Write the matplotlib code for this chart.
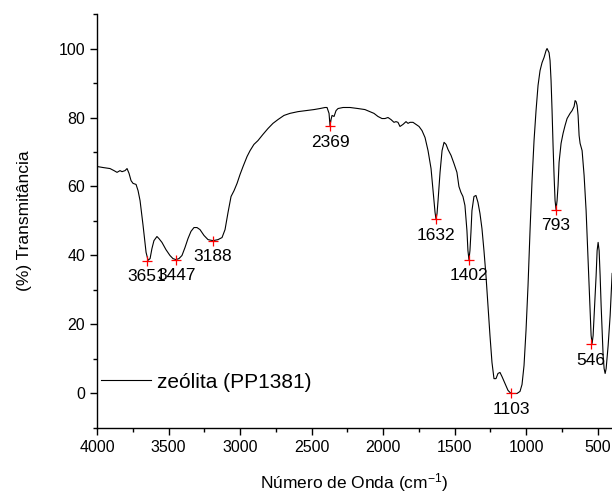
import numpy as np
import matplotlib
matplotlib.use('Agg')
import matplotlib.pyplot as plt
from matplotlib.ticker import MultipleLocator

plt.rcParams['font.family'] = ['Liberation Sans', 'DejaVu Sans']
plt.rcParams['mathtext.default'] = 'regular'

# espectro FTIR: número de onda (cm-1) e transmitância (%)
wavenumber = [4000, 3958, 3909, 3881, 3860, 3839, 3825, 3804, 3790, 3776, 3762, 3748,
              3727, 3713, 3699, 3678, 3657, 3643, 3629, 3616, 3602, 3581, 3567, 3546,
              3518, 3490, 3469, 3448, 3427, 3406, 3385, 3364, 3343, 3322, 3301, 3280,
              3252, 3224, 3189, 3154, 3126, 3105, 3084, 3063, 3042, 3021, 3000, 2979,
              2951, 2930, 2903, 2875, 2840, 2805, 2770, 2735, 2693, 2651, 2595, 2539,
              2483, 2441, 2406, 2392, 2378, 2371, 2364, 2357, 2343, 2329, 2315, 2280,
              2231, 2176, 2127, 2092, 2064, 2036, 2008, 1987, 1966, 1945, 1924, 1910,
              1896, 1882, 1861, 1840, 1826, 1812, 1791, 1770, 1749, 1728, 1707, 1686,
              1665, 1651, 1637, 1630, 1623, 1616, 1602, 1588, 1574, 1560, 1546, 1525,
              1505, 1484, 1470, 1456, 1442, 1428, 1414, 1407, 1400, 1393, 1386, 1379,
              1365, 1351, 1337, 1323, 1309, 1295, 1281, 1267, 1253, 1239, 1225, 1211,
              1197, 1183, 1169, 1148, 1127, 1106, 1085, 1064, 1043, 1029, 1015, 1001,
              987, 973, 959, 945, 931, 917, 903, 889, 875, 861, 854, 840,
              833, 826, 819, 812, 805, 798, 791, 784, 777, 770, 756, 742,
              728, 714, 693, 679, 665, 658, 651, 644, 637, 630, 623, 609,
              595, 581, 567, 553, 546, 539, 532, 525, 511, 504, 497, 490,
              483, 476, 469, 462, 455, 448, 441, 427, 413, 399]
transmittance = [65.8, 65.5, 65.2, 64.6, 64.1, 64.6, 64.3, 64.6, 65.2, 63.8, 61.7, 60.9,
                 60.6, 58.8, 55.9, 48.7, 40.9, 38.6, 39.1, 42.0, 44.3, 45.5, 44.9, 43.8,
                 41.7, 40.0, 39.1, 38.8, 39.1, 40.0, 42.3, 44.9, 47.0, 48.1, 48.1, 47.5,
                 45.8, 44.6, 44.3, 44.6, 45.2, 47.5, 52.5, 57.1, 58.8, 60.9, 63.5, 65.8,
                 68.7, 70.4, 72.2, 73.3, 75.1, 76.8, 78.3, 79.4, 80.6, 81.2, 81.7, 82.0,
                 82.3, 82.6, 82.9, 82.9, 81.2, 77.6, 79.4, 80.6, 80.3, 82.0, 82.6, 82.9,
                 82.9, 82.6, 82.3, 81.7, 81.2, 80.3, 79.7, 79.7, 80.0, 79.4, 78.6, 78.8,
                 78.6, 77.4, 78.0, 78.8, 78.3, 78.6, 78.6, 78.0, 77.4, 76.2, 74.2, 70.4,
                 65.2, 58.8, 52.5, 50.5, 52.2, 55.9, 64.1, 70.4, 72.8, 72.2, 70.7, 69.0,
                 66.7, 64.1, 60.0, 58.3, 57.1, 54.5, 47.2, 41.4, 38.8, 41.4, 46.7, 53.0,
                 57.1, 57.4, 55.4, 52.2, 47.8, 41.4, 34.2, 25.5, 16.8, 9.0, 4.3, 4.3,
                 5.8, 6.1, 4.9, 2.9, 0.9, 0.0, 0.0, 0.0, 0.6, 2.6, 8.1, 18.3,
                 31.3, 47.2, 61.7, 73.3, 82.0, 89.3, 93.6, 95.9, 97.4, 99.4, 100.0, 98.8,
                 96.5, 90.7, 82.0, 71.9, 63.2, 55.9, 53.3, 55.9, 60.3, 67.0, 72.5, 75.4,
                 77.7, 79.7, 81.2, 82.0, 83.2, 84.9, 84.6, 83.5, 80.6, 74.8, 72.5, 70.4,
                 63.2, 53.0, 38.6, 24.1, 16.8, 14.5, 16.8, 22.6, 34.2, 41.4, 43.8, 41.4,
                 34.2, 25.5, 18.3, 11.0, 7.2, 5.8, 7.2, 13.9, 22.6, 34.8]

peak_wn = [3651, 3447, 3188, 2369, 1632, 1402, 1103, 793, 546]
peak_t = [38.4, 38.8, 44.3, 77.4, 50.5, 38.8, 0.0, 53.2, 14.3]
peak_labels = ['3651', '3447', '3188', '2369', '1632', '1402', '1103', '793', '546']

fig = plt.figure(figsize=(6.12, 4.95), dpi=100)
ax = fig.add_axes([0.1585, 0.1354, 0.8415, 0.8363])

ax.plot(wavenumber, transmittance, color='black', lw=0.8, label='zeólita (PP1381)')
ax.plot(peak_wn, peak_t, ls='none', marker='+', color='red', ms=7, mew=0.9)
for w, t, s in zip(peak_wn, peak_t, peak_labels):
    ax.annotate(s, xy=(w, t), xytext=(0, -11.5), textcoords='offset points',
                ha='center', va='center', fontsize=12.5)

ax.set_xlim(4000, 400)
ax.set_ylim(-10, 110)
ax.xaxis.set_major_locator(MultipleLocator(500))
ax.xaxis.set_minor_locator(MultipleLocator(250))
ax.yaxis.set_major_locator(MultipleLocator(20))
ax.yaxis.set_minor_locator(MultipleLocator(10))
ax.set_yticks([0, 20, 40, 60, 80, 100])

for side in ['top', 'right']:
    ax.spines[side].set_visible(False)
for side in ['left', 'bottom']:
    ax.spines[side].set_linewidth(1.0)
ax.tick_params(which='major', direction='out', length=5, width=1.0, labelsize=11.5)
ax.tick_params(which='minor', direction='out', length=3, width=1.0)

ax.set_xlabel('Número de Onda (cm$^{-1}$)', fontsize=12.5, labelpad=12)
ax.set_ylabel('(%) Transmitância', fontsize=12.5, labelpad=19)

ax.legend(loc='center left', bbox_to_anchor=(0.008, 0.111), frameon=False,
          fontsize=15, handlelength=2.4, handletextpad=0.3, borderpad=0,
          borderaxespad=0)

plt.savefig('out.png', dpi=100)
